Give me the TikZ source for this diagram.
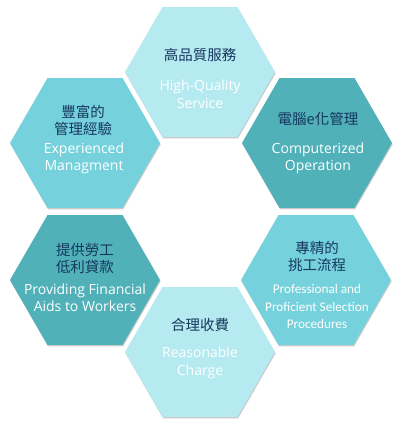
\documentclass[tikz,border=0pt]{standalone}
\usepackage{fontspec}
\setmainfont{Open Sans}
\newfontfamily\cjk{Noto Sans CJK TC}
\newfontfamily\cond{Carlito}
\usetikzlibrary{shapes.geometric,shadows}
\definecolor{hexlight}{HTML}{B4EAF0}
\definecolor{hexmid}{HTML}{75D2DC}
\definecolor{hexdark}{HTML}{50B1B9}
\definecolor{zhblue}{HTML}{17375E}
\tikzset{
  hexa/.style={regular polygon, regular polygon sides=6, minimum size=150pt,
    inner sep=0pt, outer sep=0pt, draw=none,
    drop shadow={shadow xshift=0.6pt, shadow yshift=-1.4pt, fill=black!45, opacity=0.45}},
  zh/.style={text=zhblue, font=\cjk\fontsize{14.5}{17}\selectfont, align=center, inner sep=0pt},
  en/.style={text=white, font=\fontsize{14}{17.5}\selectfont, align=center, inner sep=0pt},
  enc/.style={text=white, font=\cond\fontsize{13.2}{17.5}\selectfont, align=center, inner sep=0pt}
}
\begin{document}
\begin{tikzpicture}[x=1pt,y=-1pt]
\useasboundingbox[fill=white] (0,0) rectangle (400,426);
\node[hexa, fill=hexlight] (top) at (200,72) {};
\node[hexa, fill=hexmid] (ul) at (85,143) {};
\node[hexa, fill=hexdark] (ur) at (317,143) {};
\node[hexa, fill=hexdark] (ll) at (85,280) {};
\node[hexa, fill=hexmid] (lr) at (316,280) {};
\node[hexa, fill=hexlight] (bot) at (200,352) {};

\node[zh] (topzh) at (200,55) {高品質服務};
\node[en] (topen) at (200,94) {High-Quality\\Service};

\node[zh] (ulzh) at (83,120) {豐富的\\管理經驗};
\node[en] (ulen) at (84,158.5) {Experienced\\Managment};

\node[zh] (urzh) at (318,119) {電腦e化管理};
\node[en] (uren) at (318,158.5) {Computerized\\Operation};

\node[zh] (llzh) at (85,258) {提供勞工\\低利貸款};
\node[en] (llen) at (85,297.5) {Providing Financial\\Aids to Workers};

\node[zh] (lrzh) at (317,256.5) {專精的\\挑工流程};
\node[enc] (lren) at (317,306.5) {Professional and\\Proficient Selection\\Procedures};

\node[zh] (botzh) at (200,325) {合理收費};
\node[en] (boten) at (200,363) {Reasonable\\Charge};
\end{tikzpicture}
\end{document}
